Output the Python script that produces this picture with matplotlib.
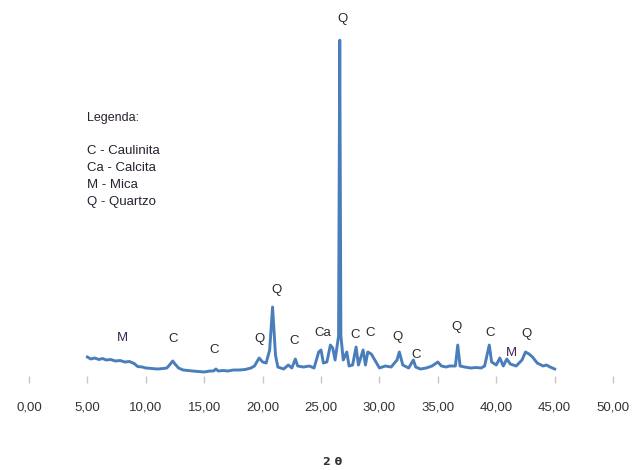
import matplotlib
matplotlib.use("Agg")
import matplotlib.pyplot as plt

plt.rcParams['font.family'] = ['Liberation Sans', 'DejaVu Sans']

# diffractogram (2theta, intensity in arbitrary counts)
two_theta = [5.0, 5.3, 5.6, 6.0, 6.3, 6.6, 7.0, 7.4, 7.8, 8.2, 8.6, 9.0, 9.3,
             9.7, 10.0, 10.5, 11.0, 11.5, 11.8, 12.1, 12.3, 12.5, 12.8, 13.2,
             13.6, 14.0, 14.5, 15.0, 15.5, 15.8, 16.0, 16.2, 16.6, 17.0, 17.5,
             18.0, 18.5, 19.0, 19.3, 19.5, 19.7, 20.0, 20.3, 20.6, 20.85, 21.1,
             21.3, 21.8, 22.2, 22.5, 22.8, 23.0, 23.5, 24.0, 24.4, 24.8, 25.0,
             25.2, 25.5, 25.8, 26.0, 26.2, 26.5, 26.6, 26.7, 26.9, 27.2, 27.4,
             27.7, 28.0, 28.2, 28.6, 28.8, 29.0, 29.3, 29.6, 30.0, 30.5, 31.0,
             31.5, 31.7, 32.0, 32.5, 32.9, 33.1, 33.5, 34.0, 34.5, 35.0, 35.3,
             35.7, 36.0, 36.5, 36.7, 36.9, 37.3, 37.8, 38.3, 38.7, 39.0, 39.4,
             39.6, 40.0, 40.3, 40.6, 40.9, 41.2, 41.7, 42.2, 42.5, 42.8, 43.1,
             43.5, 44.0, 44.3, 44.6, 45.0]
intensity = [190, 170, 180, 165, 175, 160, 165, 150, 155, 140, 145, 125, 95,
             90, 80, 75, 70, 75, 80, 120, 150, 120, 80, 60,
             55, 50, 45, 40, 50, 50, 70, 50, 55, 50, 60,
             60, 65, 80, 100, 140, 180, 140, 130, 260, 690, 210,
             90, 70, 110, 80, 170, 100, 90, 100, 80, 240, 260,
             130, 140, 310, 280, 160, 400, 3360, 400, 160, 240, 100,
             110, 290, 110, 260, 110, 240, 220, 160, 80, 100, 90,
             160, 240, 110, 80, 160, 90, 70, 80, 100, 140, 100,
             90, 100, 100, 310, 100, 90, 80, 85, 80, 100, 310,
             140, 110, 180, 100, 170, 120, 100, 160, 240, 220, 190,
             130, 100, 110, 90, 70]

# phase labels: (text, 2theta, intensity)
peak_labels = ["Q", "M", "C", "C", "Q", "Q", "C", "Ca", "C", "C",
               "Q", "C", "Q", "C", "M", "Q"]
peak_x = [26.82, 7.97, 12.34, 15.85, 19.71, 21.17, 22.71, 25.11, 27.93, 29.22,
          31.53, 33.16, 36.59, 39.50, 41.30, 42.59]
peak_y = [3570, 380, 370, 260, 370, 860, 350, 430, 410, 430,
          390, 210, 490, 430, 230, 420]

legend_lines = ["C - Caulinita", "Ca - Calcita", "M - Mica", "Q - Quartzo"]
x_ticks = [0, 5, 10, 15, 20, 25, 30, 35, 40, 45, 50]

fig = plt.figure(figsize=(6.37, 4.70), dpi=100)
ax = fig.add_axes([0.0455, 0.2, 0.917, 0.757])

ax.plot(two_theta, intensity, color="#4A7EBB", lw=2.1, solid_joinstyle="round")

for lab, x, y in zip(peak_labels, peak_x, peak_y):
    col = "#3b2750" if lab == "M" else "#2a2a2a"
    ax.text(x, y, lab, ha="center", va="center", fontsize=9.5, color=col,
            clip_on=False)

ax.set_xlim(0, 50)
ax.set_ylim(0, 3560)
ax.set_xticks(x_ticks)
ax.set_xticklabels([f"{t:.2f}".replace(".", ",") for t in x_ticks])
ax.set_yticks([])
for s in ax.spines.values():
    s.set_visible(False)
ax.tick_params(axis="x", length=5, width=1, color="#c8c8c8", pad=13,
               labelsize=9.5, labelcolor="#333333")

fig.text(87 / 637, 1 - 118 / 470, "Legenda:", fontsize=9, color="#2a2030",
         va="center", ha="left")
for i, line in enumerate(legend_lines):
    fig.text(87 / 637, 1 - (151 + 17 * i) / 470, line, fontsize=9.5,
             color="#2a2030", va="center", ha="left")

fig.text(333 / 637, 1 - 462 / 470, "2 θ", fontsize=8, fontweight="bold",
         color="#333333", ha="center", va="center", family="DejaVu Sans")

fig.savefig("out.png", dpi=100, facecolor="white")
